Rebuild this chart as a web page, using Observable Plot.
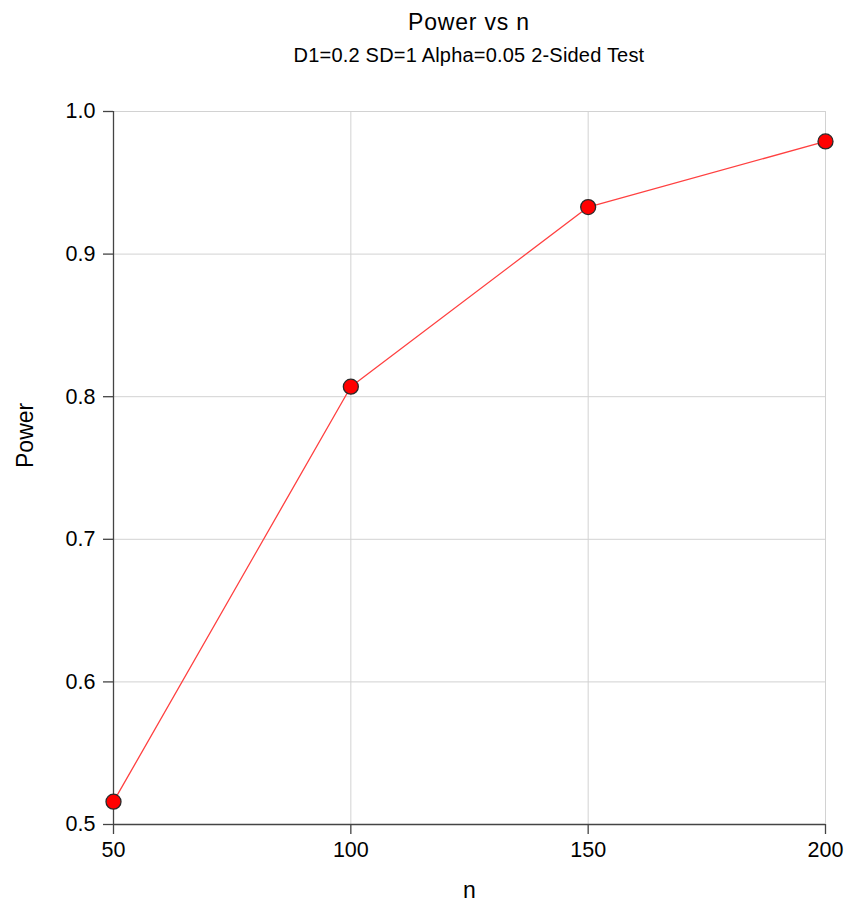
<!DOCTYPE html>
<html>
<head>
<meta charset="utf-8">
<script src="https://cdn.jsdelivr.net/npm/d3@7"></script>
<script src="https://cdn.jsdelivr.net/npm/@observablehq/plot@0.6"></script>
<style>
  body { margin: 0; background: #fff; font-family: "Liberation Sans", Arial, sans-serif; }
  #wrap { position: relative; width: 849px; height: 909px; }
  .title { position: absolute; left: 113px; width: 712px; text-align: center; color: #000; line-height: 1; white-space: nowrap; }
  #t1 { top: 10.5px; font-size: 23px; letter-spacing: 0.8px; }
  #t2 { top: 45px; font-size: 20px; letter-spacing: 0.2px; }
</style>
</head>
<body>
<div id="wrap">
  <div id="chart"></div>
  <div class="title" id="t1">Power vs n</div>
  <div class="title" id="t2">D1=0.2 SD=1 Alpha=0.05 2-Sided Test</div>
</div>
<script>
const nValues = [50, 100, 150, 200];
const powerValues = [0.516, 0.807, 0.933, 0.979];
const xTicks = [50, 100, 150, 200];
const yTicks = [0.5, 0.6, 0.7, 0.8, 0.9, 1.0];

const data = nValues.map((n, i) => ({n, power: powerValues[i]}));

const chart = Plot.plot({
  width: 849,
  height: 909,
  marginLeft: 113,
  marginRight: 24,
  marginTop: 111,
  marginBottom: 85,
  style: {fontFamily: '"Liberation Sans", Arial, sans-serif', background: "#fff", color: "#000"},
  x: {domain: [50, 200], ticks: xTicks},
  y: {domain: [0.5, 1.0], ticks: yTicks},
  marks: [
    Plot.gridX(xTicks.slice(1), {stroke: "#d2d2d2", strokeOpacity: 1}),
    Plot.gridY(yTicks.slice(1), {stroke: "#d2d2d2", strokeOpacity: 1}),
    Plot.ruleX([50], {stroke: "#444", strokeWidth: 1.3}),
    Plot.ruleY([0.5], {stroke: "#444", strokeWidth: 1.3}),
    Plot.axisX(xTicks, {tickSize: 10, tickPadding: 7, fontSize: 21.5, stroke: "#444", strokeWidth: 1.3, label: null, tickFormat: d => d3.format("d")(d)}),
    Plot.axisY(yTicks, {tickSize: 10, tickPadding: 8, fontSize: 21.5, stroke: "#444", strokeWidth: 1.3, label: null, tickFormat: d => d3.format(".1f")(d)}),
    Plot.text(["n"], {frameAnchor: "bottom", dy: 73.5, fontSize: 23, fill: "#000"}),
    Plot.text(["Power"], {frameAnchor: "left", dx: -88, rotate: -90, fontSize: 23, fill: "#000", letterSpacing: 0.6}),
    Plot.line(data, {x: "n", y: "power", stroke: "#ff4040", strokeWidth: 1.3}),
    Plot.dot(data, {x: "n", y: "power", r: 7.5, fill: "#ff0000", stroke: "#2a2a2a", strokeWidth: 1.3})
  ]
});
document.getElementById("chart").appendChild(chart);
</script>
</body>
</html>
